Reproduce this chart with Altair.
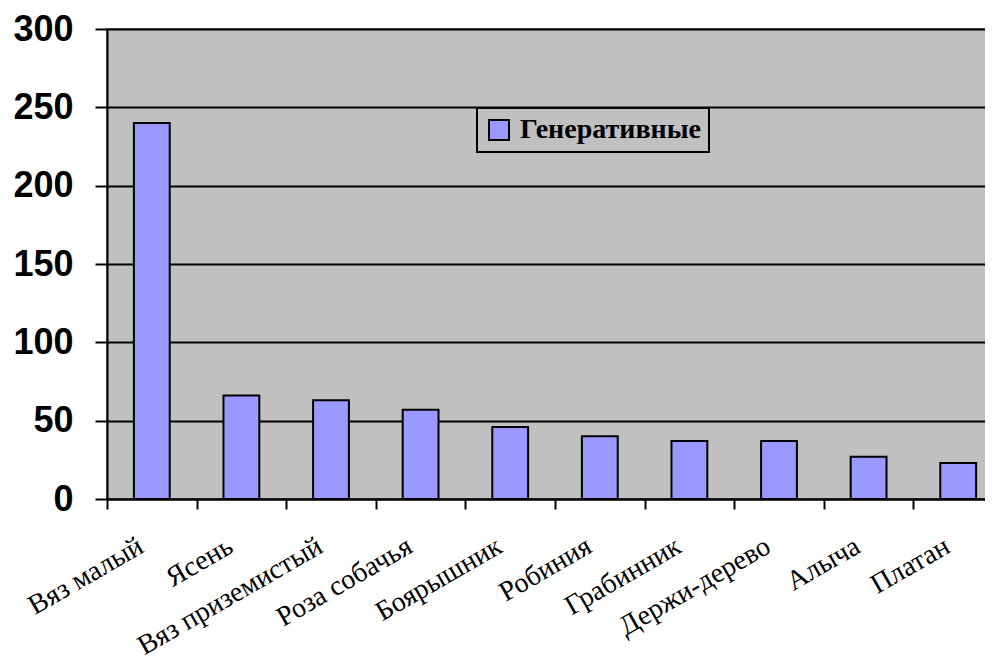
import altair as alt
import pandas as pd

categories = ["Вяз малый", "Ясень", "Вяз приземистый", "Роза собачья", "Боярышник",
              "Робиния", "Грабинник", "Держи-дерево", "Алыча", "Платан"]
values = [240, 66, 63, 57, 46, 40, 37, 37, 27, 23]
series_name = "Генеративные"
y_ticks = [0, 50, 100, 150, 200, 250, 300]

df = pd.DataFrame({"cat": categories, "val": values, "series": [series_name] * len(categories)})

bars = alt.Chart(df).mark_bar(
    width=alt.RelativeBandSize(0.4), stroke="black", strokeWidth=2
).encode(
    x=alt.X("cat:N", sort=categories, title=None,
            scale=alt.Scale(paddingInner=0, paddingOuter=0),
            axis=alt.Axis(labelAngle=-30, labelAlign="right", labelBaseline="middle",
                          labelFont="Liberation Serif", labelFontSize=28, labelColor="black",
                          labelPadding=35, labelOffset=-11, labelOverlap=False, labelLimit=500,
                          tickBand="extent", tickSize=10, tickColor="black", tickWidth=2,
                          domainColor="black", domainWidth=2, grid=False)),
    y=alt.Y("val:Q", title=None, scale=alt.Scale(domain=[0, 300], nice=False),
            axis=alt.Axis(values=y_ticks, labelFont="Liberation Sans", labelFontWeight="bold",
                          labelFontSize=36, labelColor="black", labelPadding=22,
                          tickSize=12, tickColor="black", tickWidth=2,
                          domainColor="black", domainWidth=2,
                          grid=True, gridColor="black", gridWidth=2)),
    color=alt.Color("series:N", scale=alt.Scale(range=["#9999ff"]),
                    legend=alt.Legend(title=None, orient="none", legendX=370, legendY=79,
                                      fillColor="#c0c0c0", strokeColor="black",
                                      padding=8, symbolType="square", symbolSize=400,
                                      symbolStrokeColor="black", symbolStrokeWidth=2,
                                      symbolOpacity=1,
                                      labelFont="Liberation Serif", labelFontWeight="bold",
                                      labelFontSize=28, labelColor="black", labelOffset=7,
                                      labelLimit=500)),
)

chart = bars.properties(
    width=896, height=470,
    autosize=alt.AutoSizeParams(type="none"),
    padding={"left": 99, "top": 21, "right": -18, "bottom": 161},
    background="white",
).configure_view(
    fill="#c0c0c0", stroke="#808080", strokeWidth=2
).configure_legend(
    strokeWidth=2
)

chart.save("out.html", embed_options={"renderer": "svg", "actions": False})
